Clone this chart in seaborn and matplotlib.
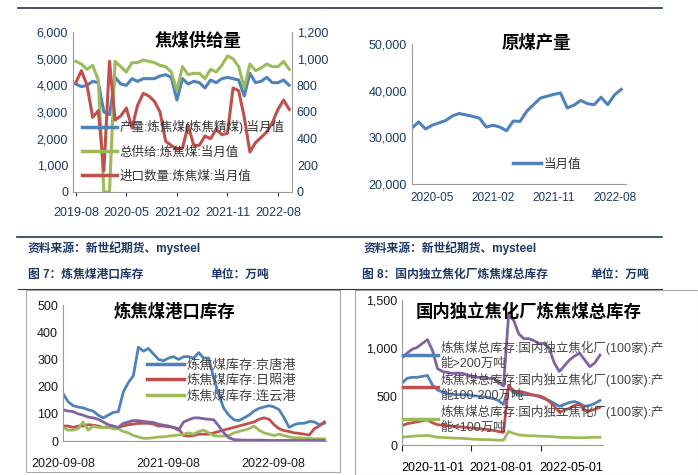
import numpy as np
import matplotlib
matplotlib.use("Agg")
import matplotlib.pyplot as plt
import seaborn as sns
from matplotlib.lines import Line2D

plt.rcParams['font.family'] = ['Liberation Sans', 'Noto Sans CJK SC']
plt.rcParams['axes.unicode_minus'] = False

BLUE, RED, GREEN, PURPLE = '#4f81bd', '#c0504d', '#9bbb59', '#8064a2'
NAVY = '#1f3864'
W, H = 698, 475

# ---- chart 1: 焦煤供给量 (monthly) ----
c1_ticks = ['2019-08', '2020-05', '2021-02', '2021-11', '2022-08']
c1_prod = [4050, 3950, 4000, 4150, 4100, 3000, 2900, 4300, 4050, 4000, 4250, 4150, 4250,
           4250, 4250, 4350, 4400, 4300, 3450, 4250, 4050, 4150, 4100, 3900, 4200, 4100,
           4250, 4300, 4250, 4200, 3600, 4450, 4100, 4150, 4300, 4100, 4100, 4200, 4000]
c1_supply = [4900, 4800, 4600, 4750, 4200, 0, 0, 4900, 4700, 4500, 4850, 4850, 4950,
             4900, 4850, 4750, 4700, 4500, 3800, 4700, 4400, 4450, 4450, 4250, 4600, 4500,
             4750, 5100, 5000, 4700, 3900, 4800, 4550, 4650, 4800, 4700, 4700, 4900, 4600]
c1_import = [820, 910, 800, 560, 610, 160, 980, 540, 570, 630, 480, 650, 740, 720, 680,
             600, 380, 350, 320, 330, 500, 350, 350, 420, 400, 470, 430, 440, 780, 760,
             560, 300, 370, 410, 450, 520, 620, 690, 620]

# ---- chart 2: 原煤产量 (monthly from 2020-02) ----
c2_ticks = ['2020-05', '2021-02', '2021-11', '2022-08']
c2_vals = [32000, 33300, 31800, 32600, 33100, 33600, 34600, 35100, 34800, 34500, 34100,
           32200, 32600, 32200, 31400, 33500, 33400, 35600, 37000, 38400, 38800, 39200,
           39500, 36300, 36900, 37900, 37200, 37000, 38600, 37000, 39100, 40300]

# ---- chart 3: 炼焦煤港口库存 ----
c3_ticks = ['2020-09-08', '2021-09-08', '2022-09-08']
c3_jt = [175, 145, 130, 125, 122, 115, 110, 95, 85, 95, 105, 108, 180, 215, 240, 345, 330,
         340, 320, 300, 295, 305, 310, 300, 310, 310, 305, 325, 305, 305, 230, 170, 120, 95,
         78, 75, 85, 95, 110, 120, 125, 130, 125, 115, 85, 50, 60, 65, 65, 72, 70, 60, 65]
c3_rz = [55, 55, 50, 55, 55, 60, 58, 55, 50, 52, 50, 50, 55, 60, 62, 65, 65, 65, 62, 55, 55,
         52, 50, 45, 20, 18, 20, 25, 25, 25, 30, 35, 40, 45, 50, 55, 60, 65, 70, 80, 85, 80,
         60, 45, 38, 35, 30, 28, 25, 22, 45, 55, 70]
c3_lyg = [50, 40, 40, 45, 70, 40, 55, 50, 50, 50, 45, 45, 35, 30, 20, 15, 10, 10, 12, 15, 15,
          18, 20, 22, 25, 30, 25, 35, 40, 30, 20, 18, 18, 20, 30, 35, 40, 45, 55, 40, 30, 25,
          20, 25, 20, 15, 12, 12, 10, 10, 8, 8, 8]
c3_other = [115, 110, 108, 100, 95, 88, 85, 80, 70, 60, 55, 50, 65, 70, 75, 75, 72, 70, 68,
            62, 58, 55, 50, 40, 70, 78, 85, 85, 82, 80, 78, 55, 30, 12, 5, 4, 3, 3, 3, 3, 3,
            2, 2, 2, 2, 2, 2, 2, 2, 2, 2, 2, 2]

# ---- chart 4: 国内独立焦化厂炼焦煤总库存 ----
c4_ticks = ['2020-11-01', '2021-08-01', '2022-05-01']
c4_big = [640, 690, 700, 700, 710, 720, 620, 570, 545, 530, 525, 520, 520, 520, 510, 505,
          500, 490, 480, 460, 420, 600, 540, 530, 520, 520, 515, 500, 480, 460, 430, 400,
          420, 440, 450, 430, 400, 410, 430, 460]
c4_mid = [200, 220, 230, 240, 250, 260, 230, 210, 205, 200, 195, 190, 185, 180, 175, 170,
          165, 160, 150, 140, 130, 620, 560, 550, 545, 530, 515, 510, 490, 450, 400, 340,
          360, 380, 410, 420, 360, 350, 370, 390]
c4_small = [80, 85, 90, 95, 95, 100, 90, 80, 78, 75, 72, 70, 68, 65, 60, 58, 55, 55, 52, 50,
            50, 140, 120, 105, 100, 95, 95, 92, 90, 88, 85, 80, 78, 78, 76, 75, 76, 78, 80, 80]
c4_total = [900, 950, 990, 1010, 1050, 1090, 980, 790, 760, 750, 740, 745, 740, 720, 710,
            700, 700, 690, 690, 650, 610, 1340, 1290, 1150, 1100, 1100, 1080, 1050, 1050,
            1000, 850, 760, 820, 880, 920, 950, 880, 810, 850, 930]


def box(x0, y0, x1, y1):
    return [x0 / W, 1 - y1 / H, (x1 - x0) / W, (y1 - y0) / H]


def style(ax, color='#1a1a1a'):
    for s in ['top', 'right']:
        ax.spines[s].set_visible(False)
    for s in ['left', 'bottom']:
        ax.spines[s].set_color('#999999')
    ax.tick_params(labelsize=9, colors=color, length=3)
    ax.tick_params(axis='y', length=0)
    ax.set_xlabel('')
    ax.set_ylabel('')


fig = plt.figure(figsize=(W / 100, H / 100), dpi=100)

# chart 1
ax1 = fig.add_axes(box(73, 32, 292, 192))
x1 = np.arange(len(c1_prod))
sns.lineplot(x=x1, y=c1_prod, color=BLUE, lw=2.2, ax=ax1)
sns.lineplot(x=x1, y=c1_supply, color=GREEN, lw=2.2, ax=ax1)
ax1r = ax1.twinx()
sns.lineplot(x=x1, y=c1_import, color=RED, lw=2.2, ax=ax1r)
ax1.set_ylim(0, 6000)
ax1r.set_ylim(0, 1200)
ax1.set_yticks(range(0, 6001, 1000))
ax1.set_yticklabels([f'{v:,}' for v in range(0, 6001, 1000)])
ax1r.set_yticks(range(0, 1201, 200))
ax1r.set_yticklabels([f'{v:,}' for v in range(0, 1201, 200)])
ax1.set_xlim(-0.5, len(c1_prod) - 0.5)
ax1.set_xticks([0, 9, 18, 27, 36])
ax1.set_xticklabels(c1_ticks)
style(ax1, NAVY)
ax1.tick_params(axis='x', pad=8)
ax1r.spines['top'].set_visible(False)
ax1r.spines['left'].set_visible(False)
ax1r.spines['bottom'].set_visible(False)
ax1r.spines['right'].set_color('#999999')
ax1r.tick_params(labelsize=9, colors=NAVY, length=0)
ax1r.set_ylabel('')
h1 = [Line2D([], [], color=c, lw=2.5) for c in (BLUE, GREEN, RED)]
ax1r.legend(h1, ['产量:炼焦煤(炼焦精煤):当月值', '总供给:炼焦煤:当月值', '进口数量:炼焦煤:当月值'],
            loc='upper left', bbox_to_anchor=(0.02, 0.48), frameon=False, fontsize=9,
            handlelength=2.8, labelspacing=0.95, borderaxespad=0, handletextpad=0.2,
            labelcolor='#333333')
fig.text(198 / W, 1 - 40 / H, '焦煤供给量', ha='center', va='center', fontsize=12.5,
         fontweight='bold')

# chart 2
ax2 = fig.add_axes(box(412, 44, 626, 184))
x2 = np.arange(len(c2_vals))
sns.lineplot(x=x2, y=c2_vals, color=BLUE, lw=2.2, ax=ax2)
ax2.set_ylim(20000, 50000)
ax2.set_yticks(range(20000, 50001, 10000))
ax2.set_yticklabels([f'{v:,}' for v in range(20000, 50001, 10000)])
ax2.set_xlim(0, len(c2_vals) - 0.3)
ax2.set_xticks([3, 12, 21, 30])
ax2.set_xticklabels(c2_ticks)
style(ax2, NAVY)
ax2.tick_params(axis='x', length=0, labelsize=8.5, pad=6)
ax2.legend([Line2D([], [], color=BLUE, lw=2.5)], ['当月值'], loc='center left',
           bbox_to_anchor=(0.42, 0.14), frameon=False, fontsize=9, handlelength=2.2,
           handletextpad=0.2, labelcolor='#333333')
fig.text(536 / W, 1 - 42 / H, '原煤产量', ha='center', va='center', fontsize=12.5,
         fontweight='bold')

# chart 3
ax3 = fig.add_axes(box(63, 305, 326, 441))
for vals, col in ((c3_jt, BLUE), (c3_rz, RED), (c3_lyg, GREEN), (c3_other, PURPLE)):
    sns.lineplot(x=np.linspace(190, 975, len(vals)), y=vals, color=col, lw=2, ax=ax3)
ax3.set_ylim(0, 500)
ax3.set_xlim(190, 980)
ax3.set_yticks(range(0, 501, 100))
ax3.set_xticks([190, 505, 822])
ax3.set_xticklabels(c3_ticks)
style(ax3)
ax3.tick_params(axis='x', length=0, pad=12)
h3 = [Line2D([], [], color=c, lw=2.5) for c in (BLUE, RED, GREEN)]
ax3.legend(h3, ['炼焦煤库存:京唐港', '炼焦煤库存:日照港', '炼焦煤库存:连云港'],
           loc='upper left', bbox_to_anchor=(0.3, 0.64), frameon=False, fontsize=9.5,
           handlelength=2.8, labelspacing=0.2, borderaxespad=0, handletextpad=0.2,
           labelcolor='#444444')
fig.text(174 / W, 1 - 311 / H, '炼焦煤港口库存', ha='center', va='center', fontsize=12.5,
         fontweight='bold')

# chart 4
ax4 = fig.add_axes(box(402, 300, 620, 445))
for vals, col in ((c4_big, BLUE), (c4_mid, RED), (c4_small, GREEN), (c4_total, PURPLE)):
    sns.lineplot(x=np.linspace(158, 750, len(vals)), y=vals, color=col, lw=2, ax=ax4)
ax4.set_ylim(0, 1500)
ax4.set_xlim(158, 810)
ax4.set_yticks(range(0, 1501, 500))
ax4.set_yticklabels([f'{v:,}' for v in range(0, 1501, 500)])
ax4.set_xticks([158, 365, 575])
ax4.set_xticklabels([])
ax4.set_xticks([250, 455, 665], minor=True)
ax4.set_xticklabels(c4_ticks, minor=True)
style(ax4)
ax4.spines['bottom'].set_bounds(158, 760)
ax4.tick_params(axis='x', which='minor', length=0, labelsize=9, pad=12)
ax4.tick_params(axis='x', which='major', length=4)
h4 = [Line2D([], [], color=c, lw=2.5) for c in (BLUE, RED, GREEN)]
ax4.legend(h4, ['炼焦煤总库存:国内独立焦化厂(100家):产\n能>200万吨',
                '炼焦煤总库存:国内独立焦化厂(100家):产\n能100-200万吨',
                '炼焦煤总库存:国内独立焦化厂(100家):产\n能<100万吨'],
           loc='upper left', bbox_to_anchor=(-0.02, 0.75), frameon=False, fontsize=9,
           handlelength=2.8, labelspacing=0.3, borderaxespad=0, handletextpad=0.2,
           labelcolor='#444444')
fig.text(529 / W, 1 - 311 / H, '国内独立焦化厂炼焦煤总库存', ha='center', va='center',
         fontsize=12.5, fontweight='bold')

# page decorations: rules, captions, frames
for y, x0, x1, lw in ((8, 18, 662, 1.2), (237, 17, 662, 1.2), (289, 18, 662, 0.8)):
    fig.add_artist(Line2D([x0 / W, x1 / W], [1 - y / H, 1 - y / H], color=NAVY, lw=lw))
for x0, y0, x1, y1 in ((26, 290, 340, 472), (355, 290, 698, 475)):
    fig.add_artist(plt.Rectangle((x0 / W, 1 - y1 / H), (x1 - x0) / W, (y1 - y0) / H,
                                 fill=False, ec='#aaaaaa', lw=0.8))
for x in (28, 364):
    fig.text(x / W, 1 - 248 / H, '资料来源：新世纪期货、mysteel', fontsize=8.5,
             fontweight='bold', color=NAVY, va='center')
fig.text(28 / W, 1 - 275 / H, '图 7：炼焦煤港口库存', fontsize=8.5, fontweight='bold',
         color=NAVY, va='center')
fig.text(210 / W, 1 - 275 / H, '单位：万吨', fontsize=8.5, fontweight='bold',
         color=NAVY, va='center')
fig.text(362 / W, 1 - 275 / H, '图 8：国内独立焦化厂炼焦煤总库存', fontsize=8.5,
         fontweight='bold', color=NAVY, va='center')
fig.text(590 / W, 1 - 275 / H, '单位：万吨', fontsize=8.5, fontweight='bold',
         color=NAVY, va='center')

fig.savefig('out.png', dpi=100)
